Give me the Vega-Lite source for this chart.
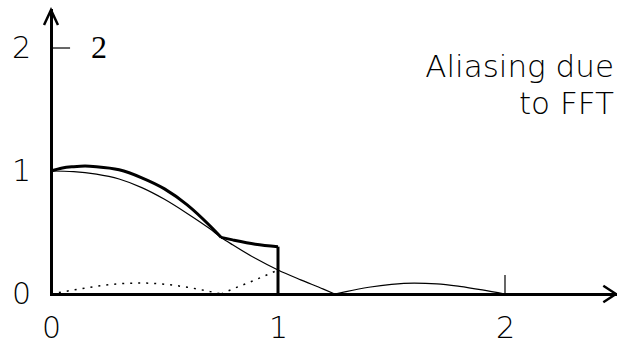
{
  "$schema": "https://vega.github.io/schema/vega-lite/v6.json",
  "width": 565,
  "height": 284,
  "autosize": {"type": "none"},
  "padding": {"left": 51, "top": 10, "right": 1, "bottom": 49},
  "config": {"view": {"stroke": null}, "font": "DejaVu Sans"},
  "datasets": {
    "exact": [
      {"x": 0, "y": 1.0, "seg": "a"},
      {"x": 0.1, "y": 0.995, "seg": "a"},
      {"x": 0.2, "y": 0.975, "seg": "a"},
      {"x": 0.3, "y": 0.935, "seg": "a"},
      {"x": 0.4, "y": 0.865, "seg": "a"},
      {"x": 0.5, "y": 0.77, "seg": "a"},
      {"x": 0.6, "y": 0.655, "seg": "a"},
      {"x": 0.7, "y": 0.53, "seg": "a"},
      {"x": 0.75, "y": 0.46, "seg": "a"},
      {"x": 0.8, "y": 0.4, "seg": "a"},
      {"x": 0.9, "y": 0.29, "seg": "a"},
      {"x": 1.0, "y": 0.195, "seg": "a"},
      {"x": 1.1, "y": 0.115, "seg": "a"},
      {"x": 1.2, "y": 0.04, "seg": "a"},
      {"x": 1.25, "y": 0, "seg": "a"},
      {"x": 1.25, "y": 0, "seg": "b"},
      {"x": 1.3, "y": 0.02, "seg": "b"},
      {"x": 1.4, "y": 0.055, "seg": "b"},
      {"x": 1.5, "y": 0.079, "seg": "b"},
      {"x": 1.6, "y": 0.089, "seg": "b"},
      {"x": 1.7, "y": 0.083, "seg": "b"},
      {"x": 1.8, "y": 0.062, "seg": "b"},
      {"x": 1.9, "y": 0.033, "seg": "b"},
      {"x": 2.0, "y": 0, "seg": "b"}
    ],
    "aliased": [
      {"x": 0, "y": 1.0, "seg": "a"},
      {"x": 0.05, "y": 1.025, "seg": "a"},
      {"x": 0.1, "y": 1.035, "seg": "a"},
      {"x": 0.15, "y": 1.04, "seg": "a"},
      {"x": 0.2, "y": 1.035, "seg": "a"},
      {"x": 0.3, "y": 1.01, "seg": "a"},
      {"x": 0.4, "y": 0.945, "seg": "a"},
      {"x": 0.5, "y": 0.855, "seg": "a"},
      {"x": 0.6, "y": 0.725, "seg": "a"},
      {"x": 0.7, "y": 0.555, "seg": "a"},
      {"x": 0.75, "y": 0.46, "seg": "a"},
      {"x": 0.75, "y": 0.46, "seg": "b"},
      {"x": 0.8, "y": 0.44, "seg": "b"},
      {"x": 0.9, "y": 0.405, "seg": "b"},
      {"x": 1.0, "y": 0.385, "seg": "b"}
    ],
    "folded": [
      {"x": 0, "y": 0, "seg": "a"},
      {"x": 0.1, "y": 0.033, "seg": "a"},
      {"x": 0.2, "y": 0.062, "seg": "a"},
      {"x": 0.3, "y": 0.083, "seg": "a"},
      {"x": 0.4, "y": 0.089, "seg": "a"},
      {"x": 0.5, "y": 0.079, "seg": "a"},
      {"x": 0.6, "y": 0.055, "seg": "a"},
      {"x": 0.7, "y": 0.02, "seg": "a"},
      {"x": 0.75, "y": 0, "seg": "a"},
      {"x": 0.75, "y": 0, "seg": "b"},
      {"x": 0.8, "y": 0.04, "seg": "b"},
      {"x": 0.9, "y": 0.115, "seg": "b"},
      {"x": 1.0, "y": 0.195, "seg": "b"}
    ]
  },
  "layer": [
    {
      "data": {"name": "exact"},
      "mark": {"type": "line", "interpolate": "monotone", "color": "black", "strokeWidth": 1.2},
      "encoding": {
        "x": {
          "field": "x", "type": "quantitative",
          "scale": {"domain": [0, 2.489], "nice": false, "zero": false},
          "axis": {
            "values": [0, 1, 2], "format": "d", "title": null, "grid": false,
            "ticks": false, "tickSize": 0,
            "domainWidth": 3, "domainColor": "black", "domainCap": "square",
            "labelFont": "DejaVu Sans", "labelFontWeight": 200, "labelFontSize": 30,
            "labelColor": "black", "labelPadding": 49, "labelBaseline": "bottom",
            "labelFlush": false, "labelOverlap": false
          }
        },
        "y": {
          "field": "y", "type": "quantitative",
          "scale": {"domain": [0, 2.309], "nice": false, "zero": false},
          "axis": {
            "values": [0, 1, 2], "format": "d", "title": null, "grid": false,
            "ticks": false, "tickSize": 0,
            "domainWidth": 3, "domainColor": "black", "domainCap": "square",
            "labelFont": "DejaVu Sans", "labelFontWeight": 200, "labelFontSize": 30,
            "labelColor": "black", "labelPadding": 30, "labelAlign": "center",
            "labelBaseline": "alphabetic", "labelOffset": 9.5,
            "labelFlush": false, "labelOverlap": false
          }
        },
        "detail": {"field": "seg"}
      }
    },
    {
      "data": {"name": "aliased"},
      "mark": {"type": "line", "interpolate": "monotone", "color": "black", "strokeWidth": 3},
      "encoding": {
        "x": {"field": "x", "type": "quantitative"},
        "y": {"field": "y", "type": "quantitative"},
        "detail": {"field": "seg"}
      }
    },
    {
      "data": {"values": [{"x": 1, "y": 0, "y2": 0.385}]},
      "mark": {"type": "rule", "color": "black", "strokeWidth": 3},
      "encoding": {
        "x": {"field": "x", "type": "quantitative"},
        "y": {"field": "y", "type": "quantitative"},
        "y2": {"field": "y2"}
      }
    },
    {
      "data": {"name": "folded"},
      "mark": {"type": "line", "interpolate": "monotone", "color": "black", "strokeWidth": 1.5, "strokeDash": [2, 6]},
      "encoding": {
        "x": {"field": "x", "type": "quantitative"},
        "y": {"field": "y", "type": "quantitative"},
        "detail": {"field": "seg"}
      }
    },
    {
      "data": {"values": [{"x": 2, "y": 0, "y2": 0.155}]},
      "mark": {"type": "rule", "color": "black", "strokeWidth": 1.2},
      "encoding": {
        "x": {"field": "x", "type": "quantitative"},
        "y": {"field": "y", "type": "quantitative"},
        "y2": {"field": "y2"}
      }
    },
    {
      "data": {"values": [{"x": 0, "x2": 0.084, "y": 2}]},
      "mark": {"type": "rule", "color": "black", "strokeWidth": 1.2},
      "encoding": {
        "x": {"field": "x", "type": "quantitative"},
        "x2": {"field": "x2"},
        "y": {"field": "y", "type": "quantitative"}
      }
    },
    {
      "data": {"values": [{"x": 0, "y": 2.309}]},
      "mark": {"type": "point", "shape": "M-0.93,2L0,0L0.93,2", "size": 225, "filled": false, "stroke": "black", "strokeWidth": 2.5, "opacity": 1},
      "encoding": {
        "x": {"field": "x", "type": "quantitative"},
        "y": {"field": "y", "type": "quantitative"}
      }
    },
    {
      "data": {"values": [{"x": 2.489, "y": 0}]},
      "mark": {"type": "point", "shape": "M-2,-1.3L0,0L-2,1.3", "size": 161, "filled": false, "stroke": "black", "strokeWidth": 2.5, "opacity": 1},
      "encoding": {
        "x": {"field": "x", "type": "quantitative"},
        "y": {"field": "y", "type": "quantitative"}
      }
    },
    {
      "data": {"values": [{"x": 0.211, "y": 1.919, "label": "2"}]},
      "mark": {"type": "text", "font": "Liberation Serif", "fontSize": 32, "align": "center", "baseline": "alphabetic", "color": "black"},
      "encoding": {
        "x": {"field": "x", "type": "quantitative"},
        "y": {"field": "y", "type": "quantitative"},
        "text": {"field": "label"}
      }
    },
    {
      "data": {"values": [
        {"x": 2.48, "y": 1.764, "label": "Aliasing due"},
        {"x": 2.48, "y": 1.463, "label": "to FFT"}
      ]},
      "mark": {"type": "text", "font": "DejaVu Sans", "fontWeight": 200, "fontSize": 31, "align": "right", "baseline": "alphabetic", "color": "black"},
      "encoding": {
        "x": {"field": "x", "type": "quantitative"},
        "y": {"field": "y", "type": "quantitative"},
        "text": {"field": "label"}
      }
    }
  ]
}
